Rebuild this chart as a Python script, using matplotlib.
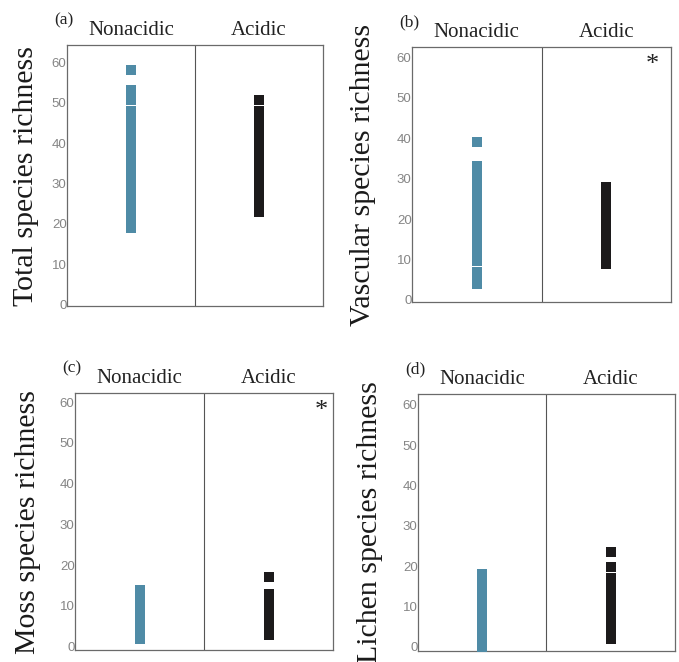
import matplotlib
matplotlib.use("Agg")
import matplotlib.pyplot as plt
import numpy as np

# 分组
groups = ["Nonacidic", "Acidic"]
panel_tags = ["(a)", "(b)", "(c)", "(d)"]
ylabels = ["Total species richness", "Vascular species richness",
           "Moss species richness", "Lichen species richness"]
# 显著性标记 (acidic 一侧)
signif = [False, True, True, False]

# (a) 总物种丰富度
total_nonacidic = [19, 20, 21, 22, 23, 24, 25, 26, 27, 28, 29, 30, 31, 32, 33, 34, 35, 36,
                   37, 38, 39, 40, 41, 42, 43, 44, 45, 46, 47, 48, 50.7, 51, 52, 53, 58]
total_acidic = [23, 24, 25, 26, 27, 28, 29, 30, 31, 32, 33, 34, 35, 36, 37, 38, 39, 40,
                41, 42, 43, 44, 45, 46, 47, 48, 50.7]
# (b) 维管植物
vascular_nonacidic = [4, 5, 6, 7, 9.7, 10, 11, 12, 13, 14, 15, 16, 17, 18, 19, 20, 21, 22,
                      23, 24, 25, 26, 27, 28, 29, 30, 31, 32, 33, 39]
vascular_acidic = [9, 10, 11, 12, 13, 14, 15, 16, 17, 18, 19, 20, 21, 22, 23, 24, 25, 26,
                   27, 28]
# (c) 苔藓
moss_nonacidic = [2, 3, 4, 5, 6, 7, 8, 9, 10, 11, 12, 13, 14]
moss_acidic = [3, 4, 5, 6, 7, 8, 9, 10, 11, 12, 13, 17]
# (d) 地衣
lichen_nonacidic = [0, 1, 2, 3, 4, 5, 6, 7, 8, 9, 10, 11, 12, 13, 14, 15, 16, 17, 18]
lichen_acidic = [2, 3, 4, 5, 6, 7, 8, 9, 10, 11, 12, 13, 14, 15, 16, 17, 19.7, 23.5]

data = [(total_nonacidic, total_acidic),
        (vascular_nonacidic, vascular_acidic),
        (moss_nonacidic, moss_acidic),
        (lichen_nonacidic, lichen_acidic)]

colors = ["#4f8ba6", "#1c1a1b"]
yticks = [0, 10, 20, 30, 40, 50, 60]

# 布局 (figure fraction)
positions = [[0.0987, 0.5378, 0.377, 0.394],
             [0.6068, 0.5438, 0.3814, 0.3852],
             [0.1105, 0.0181, 0.380, 0.388],
             [0.6156, 0.0166, 0.3785, 0.3882]]
ylims = [(-0.3, 64.2), (-0.5, 62.5), (-0.8, 62.2), (-1.0, 62.7)]
ylabel_x = [-0.16, -0.189, -0.182, -0.187]
star_xy = [None, (0.927, 0.93), (0.953, 0.93), None]

serif = ["Liberation Serif", "DejaVu Serif"]

fig = plt.figure(figsize=(6.79, 6.62), dpi=100)

for k in range(4):
    ax = fig.add_axes(positions[k])
    for i, vals in enumerate(data[k]):
        ax.scatter(np.full(len(vals), i), vals, marker="s", s=50,
                   color=colors[i], linewidths=0, zorder=3)
    ax.set_xlim(-0.5, 1.5)
    ax.set_ylim(*ylims[k])
    ax.axvline(0.5, color="#555555", lw=0.8)
    ax.set_xticks([])
    ax.set_yticks(yticks)
    ax.set_yticklabels([str(t) for t in yticks], fontsize=9.5, color="#858585",
                       family="Liberation Sans")
    ax.tick_params(axis="y", length=0, pad=0.3)
    for sp in ax.spines.values():
        sp.set_color("#6a6a6a")
        sp.set_linewidth(0.9)

    # 列标题
    for i, g in enumerate(groups):
        ax.annotate(g, xy=((i + 0.5) / 2, 1.0), xycoords="axes fraction",
                    xytext=(0, 5), textcoords="offset pixels",
                    ha="center", va="bottom", fontsize=15, family=serif,
                    color="#222222")
    ax.annotate(panel_tags[k], xy=(0, 1.0), xycoords="axes fraction",
                xytext=(-13, 17), textcoords="offset pixels",
                ha="left", va="bottom", fontsize=12.5, family=serif, color="#222222")

    ax.set_ylabel(ylabels[k], fontsize=21.5, family=serif, color="#1a1a1a", va="center")
    ax.yaxis.set_label_coords(ylabel_x[k], 0.5)

    if signif[k]:
        ax.text(star_xy[k][0], star_xy[k][1], "*", transform=ax.transAxes,
                ha="center", va="center", fontsize=19, family=serif, color="#222222")

fig.savefig("out.png", dpi=100)
